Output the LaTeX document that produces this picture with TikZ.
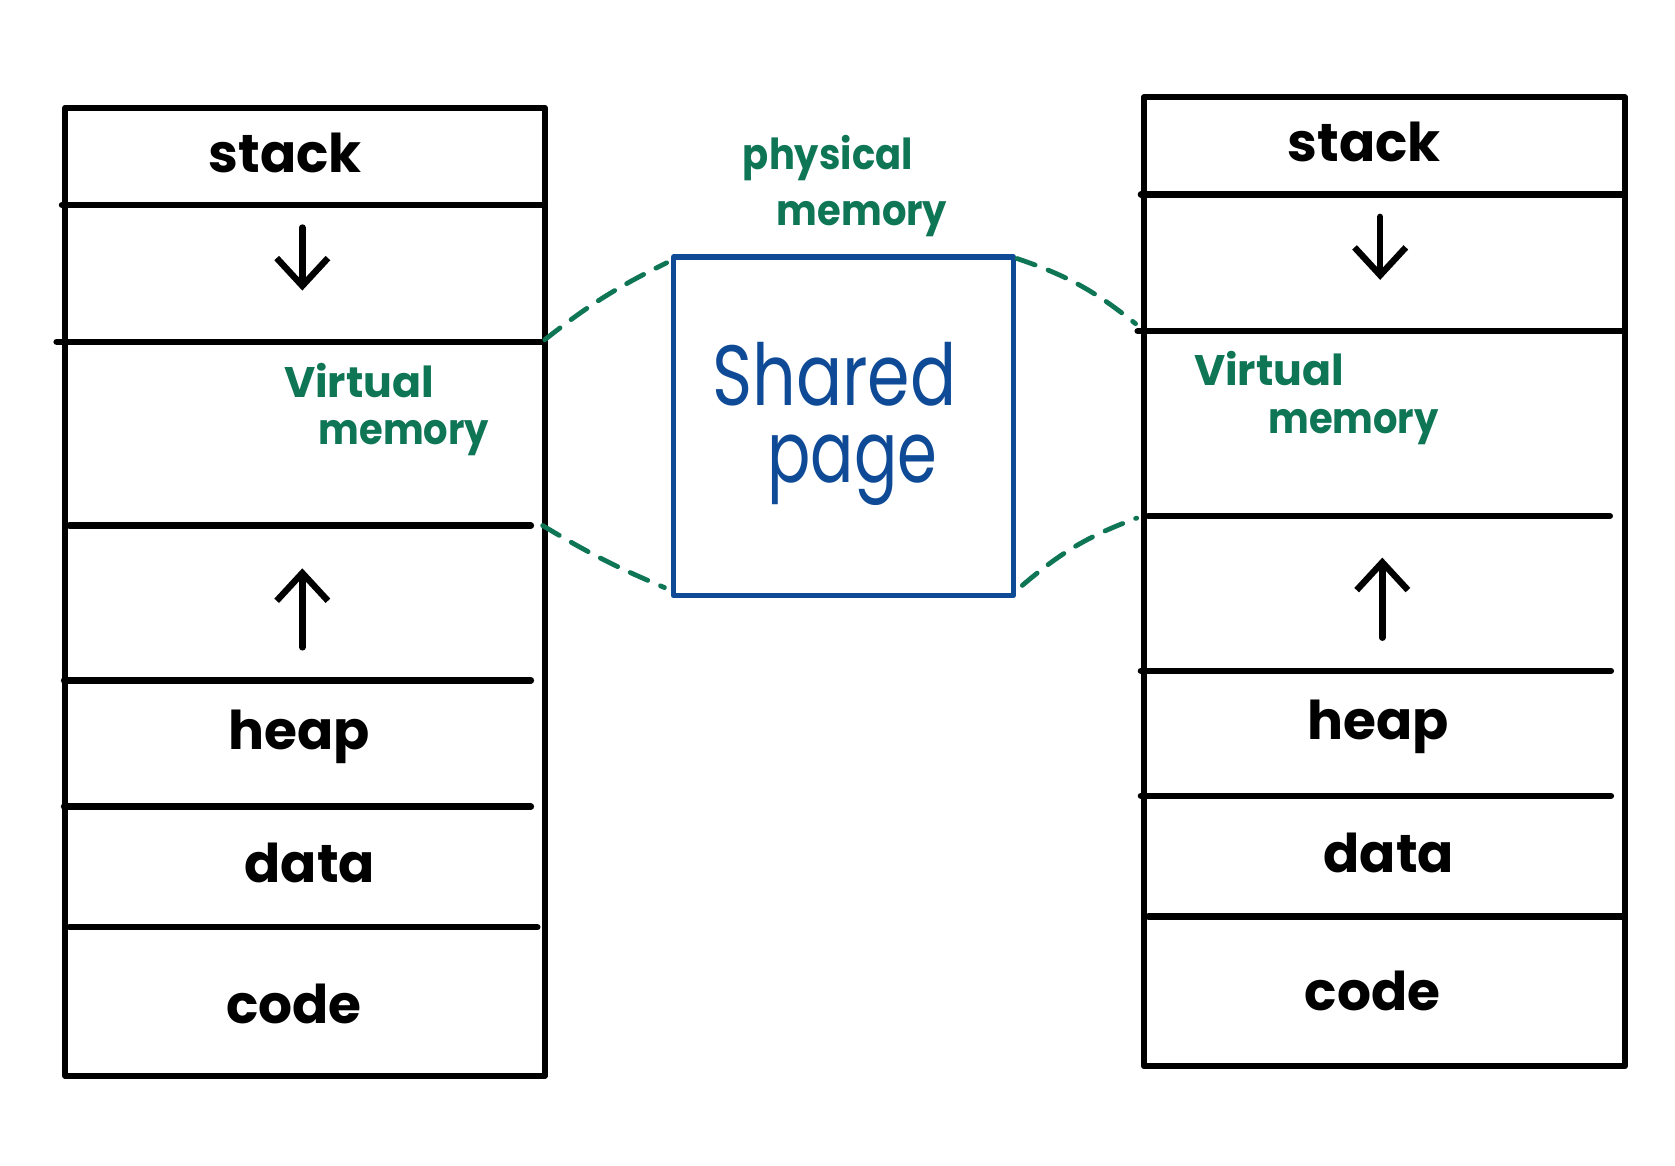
\documentclass[tikz,border=0pt]{standalone}
\usepackage{fontspec}
\setmainfont{Poppins}
\usetikzlibrary{arrows.meta}
\definecolor{vgreen}{HTML}{0E7555}
\definecolor{pblue}{HTML}{0F4A96}
\begin{document}
\begin{tikzpicture}[x=1pt,y=-1pt,line cap=round,line join=round,
  outerbox/.style={draw=black,line width=6pt,inner sep=0pt,anchor=north west},
  divider/.style={draw=black,line width=6pt},
  lbl/.style={inner sep=0pt,font=\fontsize{50}{54}\selectfont\bfseries},
  glbl/.style={inner sep=0pt,text=vgreen,font=\fontsize{40}{44}\selectfont\bfseries},
  blbl/.style={inner sep=0pt,text=pblue,font=\fontsize{80}{84}\selectfont},
  growarrow/.style={draw=black,line width=6pt,-{Straight Barb[length=26pt,width=48pt,line width=6pt]}},
  dashlink/.style={draw=vgreen,line width=4.5pt,dash pattern=on 18pt off 13pt}]
\useasboundingbox (0,0) rectangle (1568,1091);

% left stack
\node[outerbox,minimum width=449pt,minimum height=906pt] (L) at (58,98) {};
\draw[divider] (58,192) -- (510,192);
\draw[divider] (53,320) -- (507,320);
\draw[divider] (65,492) -- (497,492);
\draw[divider] (60,637) -- (497,637);
\draw[divider] (60,755) -- (497,755);
\draw[divider] (65,868) -- (503,868);
\node[lbl] (Lstack) at (267,143) {stack};
\coordinate (Ld1) at (283,213); \coordinate (Ld2) at (283,272);
\draw[growarrow] (Ld1) -- (Ld2);
\node[glbl] (Lv1) at (336,356) {Virtual};
\node[glbl] (Lv2) at (378,410) {\scalebox{0.9}[1]{memory}};
\coordinate (Lu1) at (283,606); \coordinate (Lu2) at (283,532);
\draw[growarrow] (Lu1) -- (Lu2);
\node[lbl] (Lheap) at (280,690) {heap};
\node[lbl] (Ldata) at (290,808) {data};
\node[lbl] (Lcode) at (275,940) {code};

% right stack
\node[outerbox,minimum width=450pt,minimum height=907pt] (R) at (1068,88) {};
\draw[divider] (1068,182) -- (1520,182);
\draw[divider] (1065,310) -- (1518,310);
\draw[divider] (1075,483) -- (1507,483);
\draw[divider] (1068,628) -- (1508,628);
\draw[divider] (1068,745) -- (1508,745);
\draw[divider] (1075,858) -- (1518,858);
\node[lbl] (Rstack) at (1277,133) {stack};
\coordinate (Rd1) at (1292,203); \coordinate (Rd2) at (1292,262);
\draw[growarrow] (Rd1) -- (Rd2);
\node[glbl] (Rv1) at (1188,345) {Virtual};
\node[glbl] (Rv2) at (1267,400) {\scalebox{0.9}[1]{memory}};
\coordinate (Ru1) at (1294,597); \coordinate (Ru2) at (1294,522);
\draw[growarrow] (Ru1) -- (Ru2);
\node[lbl] (Rheap) at (1290,680) {heap};
\node[lbl] (Rdata) at (1300,798) {data};
\node[lbl] (Rcode) at (1285,928) {code};

% shared page
\node[draw=pblue,line width=5pt,inner sep=0pt,anchor=north west,
      minimum width=318pt,minimum height=317pt] (S) at (628,238) {};
\node[blbl] (Sh1) at (781,350) {\scalebox{0.8}[1]{Shared}};
\node[blbl] (Sh2) at (798,440) {\scalebox{0.75}[1]{page}};
\node[glbl] (P1) at (775,148) {\scalebox{0.9}[1]{physical}};
\node[glbl] (P2) at (807,205) {\scalebox{0.9}[1]{memory}};

% dashed mapping lines
\coordinate (LA) at (510,318);
\coordinate (LB) at (508,492);
\coordinate (RA) at (1063,303);
\coordinate (RB) at (1064,485);
\coordinate (SA) at (624,246);
\coordinate (SB) at (622,550);
\coordinate (SC) at (952,242);
\coordinate (SD) at (957,548);
\draw[dashlink] (LA) to[bend left=6] (SA);
\draw[dashlink] (LB) to[bend right=4] (SB);
\draw[dashlink] (SC) to[bend left=10] (RA);
\draw[dashlink] (SD) to[bend left=10] (RB);
\end{tikzpicture}
\end{document}
